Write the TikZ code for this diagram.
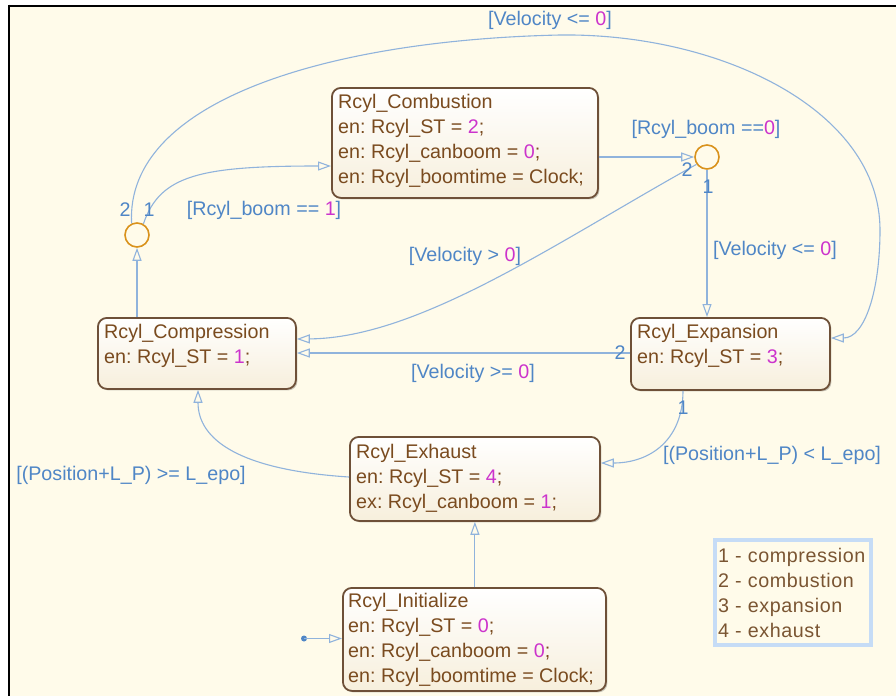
\documentclass[tikz,border=0pt]{standalone}
\usepackage{fontspec}
\setmainfont{Liberation Sans}
\usetikzlibrary{arrows.meta,shadows}
\definecolor{bg}{HTML}{FFFBEA}
\definecolor{stbot}{HTML}{F7EFDC}
\definecolor{stbrd}{HTML}{6E5038}
\definecolor{sttxt}{HTML}{7A4B1F}
\definecolor{mag}{HTML}{CC33CC}
\definecolor{lblue}{HTML}{4F86C6}
\definecolor{lnblue}{HTML}{90B3DC}
\definecolor{jor}{HTML}{D9921C}
\definecolor{legb}{HTML}{C6DCF6}
\definecolor{legt}{HTML}{7A5532}
\newcommand{\mg}[1]{\textcolor{mag}{#1}}
\newcommand{\fnt}{\fontsize{19.7}{25}\selectfont}
\frenchspacing
\begin{document}
\begin{tikzpicture}[x=1pt,y=-1pt,
  state/.style={draw=stbrd, line width=1.8pt, rounded corners=9pt, top color=white, bottom color=stbot,
    anchor=north west, inner sep=0pt,
    drop shadow={shadow xshift=1.5pt, shadow yshift=-1.5pt, fill=black, opacity=0.2}},
  stext/.style={anchor=base west, inner sep=0pt, text=sttxt, font=\fnt},
  tr/.style={draw=lnblue, line width=1.1pt, -{Triangle[open,length=13pt,width=9pt]}},
  lbl/.style={text=lblue, font=\fnt, inner sep=0pt},
  junc/.style={circle, draw=jor, line width=1.6pt, fill=bg, minimum size=24pt, inner sep=0pt},
]
\useasboundingbox (0,0) rectangle (896,696);
\fill[white] (0,0) rectangle (896,696);
\fill[bg] (10,6) rectangle (896,696);
\draw[black, line width=2pt] (8,5.5) -- (896,5.5);
\draw[black, line width=2pt] (9.2,4.5) -- (9.2,696);

% states
\node[state, minimum width=266pt, minimum height=110pt] (comb) at (331,87) {};
\node[state, minimum width=198pt, minimum height=71pt] (comp) at (97,317) {};
\node[state, minimum width=199pt, minimum height=72pt] (exp) at (630,317) {};
\node[state, minimum width=250pt, minimum height=84pt] (exh) at (349,436) {};
\node[state, minimum width=263pt, minimum height=103pt] (init) at (342,587) {};

\node[stext] (combt) at (338,108) {\begin{tabular}[t]{@{}l@{}}Rcyl\_Combustion\\ en: Rcyl\_ST = \mg{2};\\ en: Rcyl\_canboom = \mg{0};\\ en: Rcyl\_boomtime = Clock;\end{tabular}};
\node[stext] (compt) at (104,338) {\begin{tabular}[t]{@{}l@{}}Rcyl\_Compression\\ en: Rcyl\_ST = \mg{1};\end{tabular}};
\node[stext] (expt) at (637,338) {\begin{tabular}[t]{@{}l@{}}Rcyl\_Expansion\\ en: Rcyl\_ST = \mg{3};\end{tabular}};
\node[stext] (exht) at (356,458) {\begin{tabular}[t]{@{}l@{}}Rcyl\_Exhaust\\ en: Rcyl\_ST = \mg{4};\\ ex: Rcyl\_canboom = \mg{1};\end{tabular}};
\node[stext] (initt) at (348,607) {\begin{tabular}[t]{@{}l@{}}Rcyl\_Initialize\\ en: Rcyl\_ST = \mg{0};\\ en: Rcyl\_canboom = \mg{0};\\ en: Rcyl\_boomtime = Clock;\end{tabular}};

% junctions
\node[junc] (jl) at (137,235) {};
\node[junc] (jr) at (707,157) {};

% transitions
\draw[tr] (jl |- comp.north) -- (jl.south);
\draw[tr] (jl.60) .. controls (160,175) and (200,166) .. ([yshift=-79pt]comb.north west);
\draw[tr] (jl.115) .. controls (125,100) and (330,40) .. (560,35)
   .. controls (720,33) and (880,110) .. (880,230)
   .. controls (880,290) and (865,338) .. ([yshift=-21pt]exp.north east);
\draw[tr] ([yshift=-70pt]comb.north east) -- (jr.west);
\draw[tr] (jr.south) -- (jr |- exp.north);
\draw[tr] (jr.215) .. controls (560,240) and (420,338) .. ([yshift=-22pt]comp.north east);
\draw[tr] ([yshift=-36pt]exp.north west) -- ([yshift=-36pt]comp.north east);
\draw[tr] ([xshift=53pt]exp.south west) .. controls (683,440) and (650,463) .. ([yshift=-27pt]exh.north east);
\draw[tr] ([yshift=-41pt]exh.north west) .. controls (240,470) and (198,440) .. ([xshift=101pt]comp.south west);
\draw[tr] (init.north -| exh.south) -- (exh.south);
\coordinate (d0) at (304,638.5);
\fill[lblue] (d0) circle (3pt);
\draw[tr] (d0) -- (init.west |- d0);

% labels
\node[lbl] (l1) at (550,20) {[Velocity <= \mg{0}]};
\node[lbl] (l2) at (264,210) {[Rcyl\_boom == \mg{1}]};
\node[lbl] (l3) at (706,129) {[Rcyl\_boom ==\mg{0}]};
\node[lbl] (l4) at (775,250) {[Velocity <= \mg{0}]};
\node[lbl] (l5) at (465,256) {[Velocity > \mg{0}]};
\node[lbl] (l6) at (473,373) {[Velocity >= \mg{0}]};
\node[lbl] (l7) at (772,455) {[(Position+L\_P) < L\_epo]};
\node[lbl] (l8) at (131,475) {[(Position+L\_P) >= L\_epo]};

% exit numbers
\node[lbl] (n1) at (125,210) {2};
\node[lbl] (n2) at (149,210) {1};
\node[lbl] (n3) at (687,170) {2};
\node[lbl] (n4) at (708,187) {1};
\node[lbl] (n5) at (620,353) {2};
\node[lbl] (n6) at (683,408) {1};

% legend
\draw[legb, line width=4pt] (715,540) rectangle (871,645);
\node[anchor=base west, inner sep=0pt, text=legt, font=\fnt\addfontfeatures{LetterSpace=3}] (leg) at (718,562)
  {\begin{tabular}[t]{@{}l@{}}1 - compression\\ 2 - combustion\\ 3 - expansion\\ 4 - exhaust\end{tabular}};
\end{tikzpicture}
\end{document}
